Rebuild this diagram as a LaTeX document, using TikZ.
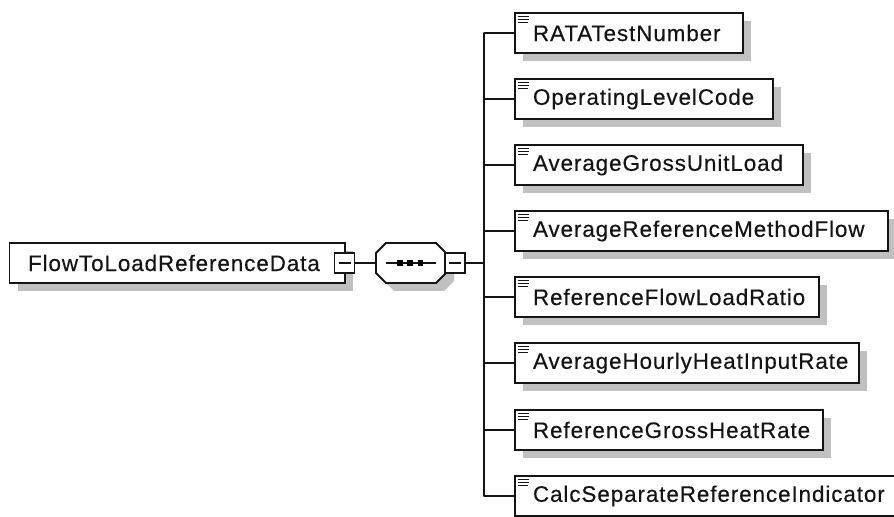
\documentclass[tikz,border=0pt]{standalone}
\usepackage{fontspec}
\setmainfont[LetterSpace=4.1,FakeBold=0.35]{Liberation Sans}
\usetikzlibrary{shadows,calc}
\definecolor{shgray}{HTML}{C0C0C0}
\definecolor{ink}{HTML}{141414}
\tikzset{
  x=1bp,y=-1bp,
  line/.style={draw=ink,line width=1.9bp},
  elem/.style={line,fill=white,anchor=north west,inner sep=0pt,outer sep=0pt,minimum height=40bp,
    general shadow={shadow xshift=8bp,shadow yshift=-8bp,fill=shgray,draw=none,opacity=1},
    font=\fontsize{22.5}{24}\selectfont,text=ink,align=left},
  toggle/.style={line,fill=white,minimum size=20bp,inner sep=0pt,outer sep=0pt,
    path picture={\draw[draw=ink,line width=1.6bp] ([xshift=4bp]path picture bounding box.west) -- ([xshift=-4bp]path picture bounding box.east);}},
  dot/.style={fill=black,draw=none,minimum size=5.5bp,inner sep=0pt},
  tick/.style={draw=ink,line width=1.1bp},
}
\newcommand{\leaf}[4]{%
  \node[elem,text width=#3bp] (#1) at (515,#4) {\hspace*{18bp}\raisebox{-2.5bp}{#2}\hfill};
  \draw[tick] ($(#1.north west)+(3,3.5)$) -- +(11,0);
  \draw[tick] ($(#1.north west)+(3,6.5)$) -- +(11,0);
  \draw[tick] ($(#1.north west)+(3,9.5)$) -- +(10,0);
}
\begin{document}
\begin{tikzpicture}
\useasboundingbox (0,0) rectangle (894,517);
\fill[white] (0,0) rectangle (894,517);
\coordinate (trunkT) at (484,33);
\coordinate (trunkM) at (484,263);
\coordinate (trunkB) at (484,496);
\node[elem,text width=335.5bp] (root) at (9.5,243) {\hspace*{18.5bp}\raisebox{-2.5bp}{FlowToLoadReferenceData}\hfill};
\node[toggle] (rootT) at (344.5,263) {};
% sequence compositor
\coordinate (seqL) at (376,263);
\fill[shgray] (394,251) -- (444,251) -- (454,261) -- (454,281) -- (444,291) -- (394,291) -- (384,281) -- (384,261) -- cycle;
\draw[line,fill=white] (386,243) -- (436,243) -- (446,253) -- (446,273) -- (436,283) -- (386,283) -- (376,273) -- (376,253) -- cycle;
\coordinate (seqA) at (386,263);
\coordinate (seqB) at (436,263);
\draw[draw=ink,line width=1.4bp] (seqA) -- (seqB);
\node[dot] (d1) at (400,263) {};
\node[dot] (d2) at (410,263) {};
\node[dot] (d3) at (420.5,263) {};
\node[toggle] (seqT) at (455,263) {};
\draw[line] (rootT) -- (seqL);
\draw[line] (seqT) -- (trunkM);
\leaf{a}{RATATestNumber}{228}{13}
\leaf{b}{OperatingLevelCode}{258}{79}
\leaf{c}{AverageGrossUnitLoad}{288}{145}
\leaf{d}{AverageReferenceMethodFlow}{373}{211}
\leaf{e}{ReferenceFlowLoadRatio}{304}{277}
\leaf{f}{AverageHourlyHeatInputRate}{344}{343}
\leaf{g}{ReferenceGrossHeatRate}{308}{410}
\leaf{h}{CalcSeparateReferenceIndicator}{386}{476}
\draw[line,line cap=round] (trunkT) -- (trunkB);
\foreach \n in {a,b,c,d,e,f,g,h}
  \draw[line] (\n.west -| trunkT) -- (\n.west);
\end{tikzpicture}
\end{document}
